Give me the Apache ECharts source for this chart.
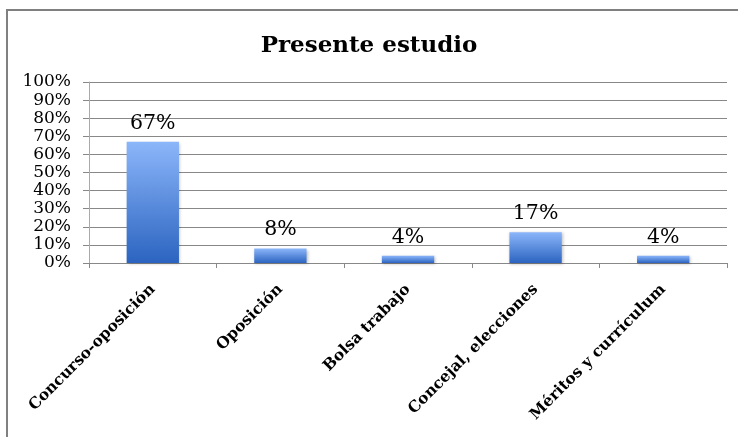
<!DOCTYPE html>
<html>
<head>
<meta charset="utf-8">
<script src="https://cdn.jsdelivr.net/npm/echarts@6/dist/echarts.min.js"></script>
<style>
  html, body { margin: 0; padding: 0; background: #fff; }
  #box { width: 738px; height: 437px; }
</style>
</head>
<body>
<div id="box"></div>
<script>
// datos del gráfico
var categorias = ['Concurso-oposición', 'Oposición', 'Bolsa trabajo', 'Concejal, elecciones', 'Méritos y currículum'];
var valores = [67, 8, 4, 17, 4];
var titulo = 'Presente estudio';

var serif = 'DejaVu Serif, Liberation Serif, serif';

var myChart = echarts.init(document.getElementById('box'));
var option = {
  backgroundColor: '#fff',
  animation: false,
  title: {
    text: titulo,
    left: 'center',
    top: 30,
    textStyle: { fontFamily: serif, fontWeight: 'bold', fontSize: 23, color: '#000' }
  },
  // marco del gráfico (izquierda y arriba)
  graphic: [{
    type: 'polyline',
    shape: { points: [[7, 437], [7, 10], [738, 10]] },
    style: { stroke: '#808080', lineWidth: 2, fill: null }
  }],
  grid: { left: 89, right: 11, top: 82, bottom: 174 },
  xAxis: {
    type: 'category',
    data: categorias,
    axisLine: { lineStyle: { color: '#888', width: 1 } },
    axisTick: { show: true, length: 5, lineStyle: { color: '#888' } },
    axisLabel: {
      rotate: 45,
      margin: 24,
      fontFamily: serif,
      fontWeight: 'bold',
      fontSize: 15.5,
      color: '#000'
    }
  },
  yAxis: {
    type: 'value',
    min: 0,
    max: 100,
    interval: 10,
    axisLine: { show: true, lineStyle: { color: '#aaa' } },
    axisTick: { show: true, length: 6, lineStyle: { color: '#888' } },
    splitLine: { lineStyle: { color: '#888', width: 1 } },
    axisLabel: {
      formatter: '{value}%',
      margin: 18,
      fontFamily: serif,
      fontSize: 17,
      color: '#000'
    }
  },
  series: [{
    type: 'bar',
    data: valores,
    barWidth: '41%',
    itemStyle: {
      color: new echarts.graphic.LinearGradient(0, 0, 0, 1, [
        { offset: 0, color: '#8cb6fa' },
        { offset: 1, color: '#2b64c0' }
      ]),
      shadowColor: 'rgba(0,0,0,0.25)',
      shadowBlur: 3,
      shadowOffsetX: 1,
      shadowOffsetY: 1
    },
    label: {
      show: true,
      position: 'top',
      distance: 8,
      formatter: '{c}%',
      fontFamily: serif,
      fontSize: 20.5,
      color: '#000'
    }
  }]
};
myChart.setOption(option);
</script>
</body>
</html>
